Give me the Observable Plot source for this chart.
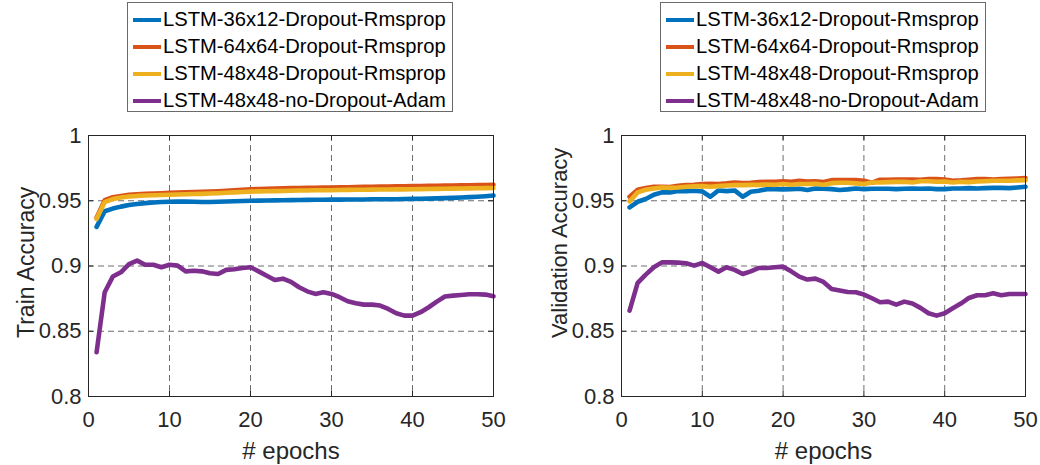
<!DOCTYPE html>
<html>
<head>
<meta charset="utf-8">
<script src="https://cdn.jsdelivr.net/npm/d3@7"></script>
<script src="https://cdn.jsdelivr.net/npm/@observablehq/plot@0.6"></script>
<style>
  html, body { margin: 0; padding: 0; background: #fff; }
  body { width: 1040px; height: 465px; position: relative; overflow: hidden; font-family: "Liberation Sans", Arial, sans-serif; }
  .panel { position: absolute; top: 0; height: 465px; }
  .legend { position: absolute; top: 2px; left: 127px; width: 324px; height: 108px; border: 1px solid #6a6a6a; background: #fff; }
  .row { position: absolute; left: 0; height: 27px; display: flex; align-items: center; font-size: 20.2px; color: #000; white-space: nowrap; }
  .swatch { width: 28px; height: 4px; margin-left: 5px; margin-right: 2px; }
  .plot { position: absolute; top: 115px; left: 0; }
</style>
</head>
<body>
<div id="left" class="panel" style="left:0px;width:520px"></div>
<div id="right" class="panel" style="left:533px;width:507px"></div>
<script>
const seriesNames = ["LSTM-36x12-Dropout-Rmsprop", "LSTM-64x64-Dropout-Rmsprop", "LSTM-48x48-Dropout-Rmsprop", "LSTM-48x48-no-Dropout-Adam"];
const seriesColors = ["#0072BD", "#D95319", "#EDB120", "#7E2F8E"];
const epochs = d3.range(1, 51);
const xTicks = [0, 10, 20, 30, 40, 50];
const yTicks = [0.8, 0.85, 0.9, 0.95, 1];

const trainBlue = [0.930,0.942,0.944,0.9455,0.9467,0.9475,0.9482,0.9487,0.9490,0.9492,
  0.9493,0.9493,0.9492,0.9490,0.9490,0.9492,0.9494,0.9496,0.9498,0.9500,
  0.9501,0.9502,0.9503,0.9504,0.9505,0.9506,0.9507,0.9508,0.9508,0.9509,
  0.9509,0.9510,0.9510,0.9510,0.9511,0.9511,0.9512,0.9512,0.9513,0.9514,
  0.9515,0.9516,0.9518,0.9520,0.9522,0.9525,0.9528,0.9531,0.9535,0.9540];
const trainOrange = [0.937,0.9505,0.9527,0.9537,0.9545,0.9550,0.9553,0.9556,0.9558,0.9560,
  0.9562,0.9564,0.9566,0.9568,0.9570,0.9573,0.9576,0.9580,0.9584,0.9588,
  0.9590,0.9592,0.9594,0.9596,0.9597,0.9598,0.9599,0.9600,0.9601,0.9602,
  0.9603,0.9604,0.9605,0.9606,0.9607,0.9608,0.9609,0.9610,0.9611,0.9612,
  0.9613,0.9614,0.9615,0.9616,0.9617,0.9618,0.9619,0.9620,0.9621,0.9622];
const trainYellow = [0.936,0.9490,0.9513,0.9525,0.9532,0.9537,0.9540,0.9542,0.9544,0.9546,
  0.9548,0.9550,0.9552,0.9553,0.9555,0.9558,0.9561,0.9564,0.9567,0.9570,
  0.9572,0.9573,0.9574,0.9575,0.9577,0.9578,0.9579,0.9580,0.9580,0.9581,
  0.9582,0.9583,0.9584,0.9584,0.9585,0.9586,0.9586,0.9587,0.9587,0.9588,
  0.9589,0.9590,0.9591,0.9592,0.9593,0.9594,0.9595,0.9596,0.9597,0.9598];
const trainPurple = [0.8339,0.8799,0.8919,0.8952,0.9015,0.9041,0.9010,0.9010,0.8990,0.9010,
  0.9003,0.8959,0.8964,0.8959,0.8944,0.8939,0.8970,0.8975,0.8985,0.8990,
  0.8959,0.8926,0.8893,0.8903,0.8878,0.8837,0.8806,0.8786,0.8799,0.8786,
  0.8761,0.8730,0.8715,0.8704,0.8704,0.8697,0.8671,0.8638,0.8620,0.8620,
  0.8646,0.8684,0.8727,0.8766,0.8773,0.8778,0.8783,0.8783,0.8781,0.8768];

const valBlue = [0.9449,0.9492,0.9513,0.9546,0.9564,0.9564,0.9574,0.9574,0.9577,0.9571,
  0.9531,0.9579,0.9574,0.9579,0.9531,0.9569,0.9577,0.9589,0.9589,0.9587,
  0.9589,0.9592,0.9582,0.9594,0.9592,0.9589,0.9582,0.9587,0.9594,0.9589,
  0.9592,0.9592,0.9592,0.9589,0.9592,0.9594,0.9592,0.9594,0.9589,0.9589,
  0.9594,0.9594,0.9597,0.9594,0.9597,0.9599,0.9599,0.9597,0.9602,0.9607];
const valOrange = [0.9531,0.9584,0.9597,0.9607,0.9607,0.9605,0.9615,0.9620,0.9622,0.9628,
  0.9630,0.9628,0.9633,0.9640,0.9635,0.9638,0.9643,0.9645,0.9645,0.9650,
  0.9645,0.9653,0.9648,0.9650,0.9643,0.9658,0.9658,0.9658,0.9658,0.9653,
  0.9638,0.9661,0.9661,0.9663,0.9663,0.9663,0.9661,0.9666,0.9666,0.9663,
  0.9653,0.9656,0.9661,0.9666,0.9666,0.9663,0.9666,0.9668,0.9671,0.9673];
const valYellow = [0.9495,0.9564,0.9584,0.9594,0.9602,0.9599,0.9602,0.9607,0.9610,0.9612,
  0.9607,0.9612,0.9617,0.9620,0.9620,0.9622,0.9622,0.9625,0.9622,0.9628,
  0.9622,0.9628,0.9628,0.9630,0.9622,0.9635,0.9638,0.9638,0.9633,0.9628,
  0.9640,0.9640,0.9643,0.9645,0.9645,0.9640,0.9650,0.9650,0.9645,0.9648,
  0.9640,0.9645,0.9643,0.9648,0.9650,0.9653,0.9653,0.9653,0.9656,0.9658];
const valPurple = [0.8658,0.8870,0.8934,0.8990,0.9028,0.9028,0.9026,0.9021,0.9003,0.9023,
  0.8990,0.8957,0.8990,0.8970,0.8939,0.8959,0.8985,0.8985,0.8990,0.8995,
  0.8959,0.8919,0.8896,0.8903,0.8878,0.8824,0.8812,0.8801,0.8799,0.8781,
  0.8753,0.8722,0.8727,0.8704,0.8727,0.8712,0.8679,0.8638,0.8620,0.8638,
  0.8676,0.8712,0.8755,0.8776,0.8776,0.8791,0.8776,0.8786,0.8786,0.8786];

function rows(seriesArrays) {
  const out = [];
  seriesArrays.forEach((arr, i) => {
    arr.forEach((v, j) => out.push({series: seriesNames[i], epoch: epochs[j], acc: v}));
  });
  return out;
}

function legend(container) {
  const box = document.createElement("div");
  box.className = "legend";
  seriesNames.forEach((name, i) => {
    const r = document.createElement("div");
    r.className = "row";
    r.style.top = (3 + i * 27) + "px";
    const sw = document.createElement("span");
    sw.className = "swatch";
    sw.style.background = seriesColors[i];
    const t = document.createElement("span");
    t.textContent = name;
    r.appendChild(sw);
    r.appendChild(t);
    box.appendChild(r);
  });
  container.appendChild(box);
}

function panel(id, data, ylabel, ylabelSize, width, marginRight) {
  const container = document.getElementById(id);
  legend(container);
  const frameW = width - 88 - marginRight;
  const frameH = 350 - 20 - 69;
  const ink = "#262626";
  const chart = Plot.plot({
    width: width,
    height: 350,
    marginLeft: 88,
    marginRight: marginRight,
    marginTop: 20,
    marginBottom: 69,
    style: {fontFamily: '"Liberation Sans", Arial, sans-serif', fontSize: "22px", color: ink, background: "#fff", overflow: "visible"},
    x: {domain: [0, 50]},
    y: {domain: [0.8, 1]},
    color: {domain: seriesNames, range: seriesColors},
    marks: [
      Plot.gridX([10, 20, 30, 40], {stroke: "#6e6e6e", strokeOpacity: 1, strokeWidth: 1, strokeDasharray: "6,4"}),
      Plot.gridY([0.85, 0.9, 0.95], {stroke: "#6e6e6e", strokeOpacity: 1, strokeWidth: 1, strokeDasharray: "6,4"}),
      Plot.line(data, {x: "epoch", y: "acc", z: "series", stroke: "series", strokeWidth: 4.6, strokeLinejoin: "round"}),
      Plot.frame({stroke: ink, strokeWidth: 1}),
      Plot.ruleX(xTicks, {x: d => d, insetTop: frameH - 5, stroke: ink}),
      Plot.ruleX(xTicks, {x: d => d, insetBottom: frameH - 5, stroke: ink}),
      Plot.ruleY(yTicks, {y: d => d, insetRight: frameW - 5, stroke: ink}),
      Plot.ruleY(yTicks, {y: d => d, insetLeft: frameW - 5, stroke: ink}),
      Plot.axisX({ticks: xTicks, tickSize: 0, tickPadding: 15, fontSize: 22, label: null, tickFormat: d => String(d)}),
      Plot.axisY({ticks: yTicks, tickSize: 0, tickPadding: 7, fontSize: 22, label: null, tickFormat: d => String(+d.toFixed(2))}),
      Plot.text(["# epochs"], {text: d => d, frameAnchor: "bottom", dy: 62, fontSize: 24, fill: ink}),
      Plot.text([ylabel], {text: d => d, frameAnchor: "left", dx: -62, dy: 72, rotate: -90, textAnchor: "start", fontSize: ylabelSize, fill: ink})
    ]
  });
  const wrap = document.createElement("div");
  wrap.className = "plot";
  wrap.appendChild(chart);
  container.appendChild(wrap);
}

panel("left", rows([trainBlue, trainOrange, trainYellow, trainPurple]), "Train Accuracy", 23, 510, 17);
panel("right", rows([valBlue, valOrange, valYellow, valPurple]), "Validation Accuracy", 22, 507, 15);
</script>
</body>
</html>
